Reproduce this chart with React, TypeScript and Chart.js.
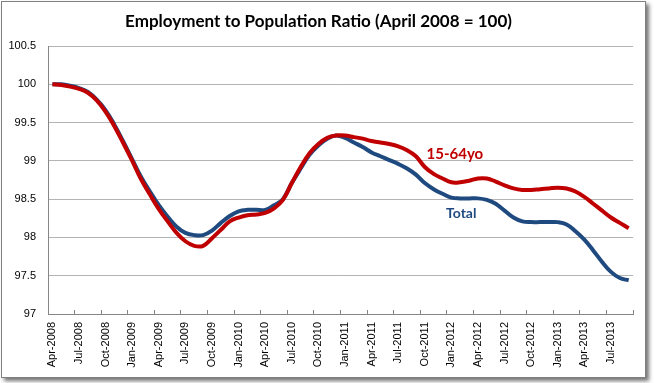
import { useEffect, useRef } from 'react';
import { Chart, registerables } from 'chart.js';

Chart.register(...registerables);

const chartTitle = 'Employment to Population Ratio (April 2008 = 100)';

const categories = [
  'Apr-2008', 'May-2008', 'Jun-2008', 'Jul-2008', 'Aug-2008', 'Sep-2008', 'Oct-2008', 'Nov-2008', 'Dec-2008',
  'Jan-2009', 'Feb-2009', 'Mar-2009', 'Apr-2009', 'May-2009', 'Jun-2009', 'Jul-2009', 'Aug-2009', 'Sep-2009',
  'Oct-2009', 'Nov-2009', 'Dec-2009', 'Jan-2010', 'Feb-2010', 'Mar-2010', 'Apr-2010', 'May-2010', 'Jun-2010',
  'Jul-2010', 'Aug-2010', 'Sep-2010', 'Oct-2010', 'Nov-2010', 'Dec-2010', 'Jan-2011', 'Feb-2011', 'Mar-2011',
  'Apr-2011', 'May-2011', 'Jun-2011', 'Jul-2011', 'Aug-2011', 'Sep-2011', 'Oct-2011', 'Nov-2011', 'Dec-2011',
  'Jan-2012', 'Feb-2012', 'Mar-2012', 'Apr-2012', 'May-2012', 'Jun-2012', 'Jul-2012', 'Aug-2012', 'Sep-2012',
  'Oct-2012', 'Nov-2012', 'Dec-2012', 'Jan-2013', 'Feb-2013', 'Mar-2013', 'Apr-2013', 'May-2013', 'Jun-2013',
  'Jul-2013', 'Aug-2013', 'Sep-2013',
];

const age1564 = [
  100.0, 99.99, 99.97, 99.94, 99.89, 99.79, 99.64, 99.45, 99.23,
  99.0, 98.76, 98.56, 98.37, 98.21, 98.06, 97.95, 97.89, 97.89,
  97.99, 98.1, 98.21, 98.26, 98.29, 98.3, 98.32, 98.38, 98.49,
  98.71, 98.92, 99.1, 99.22, 99.3, 99.33, 99.33, 99.31, 99.29,
  99.26, 99.24, 99.22, 99.19, 99.14, 99.06, 98.92, 98.83, 98.77,
  98.72, 98.72, 98.74, 98.77, 98.77, 98.73, 98.68, 98.64, 98.62,
  98.62, 98.63, 98.64, 98.65, 98.64, 98.6, 98.53, 98.44, 98.35,
  98.26, 98.19, 98.12,
];

const total = [
  100.0, 100.0, 99.98, 99.95, 99.9, 99.8, 99.66, 99.47, 99.25,
  99.02, 98.79, 98.6, 98.42, 98.27, 98.14, 98.06, 98.03, 98.03,
  98.09, 98.19, 98.28, 98.34, 98.36, 98.36, 98.36, 98.42, 98.5,
  98.71, 98.9, 99.08, 99.2, 99.29, 99.33, 99.3, 99.24, 99.18,
  99.11, 99.06, 99.01, 98.96, 98.9, 98.82, 98.71, 98.63, 98.57,
  98.52, 98.51, 98.51, 98.51, 98.49, 98.44, 98.35, 98.26, 98.21,
  98.2, 98.2, 98.2, 98.2, 98.17, 98.08, 97.97, 97.83, 97.68,
  97.55, 97.47, 97.44,
];

const seriesNames = ['15-64yo', 'Total'];
// label anchors: [category index, value] of the left/baseline of each in-chart series label
const labelAnchorIndex = [42.2, 44.4];
const labelAnchorValue = [99.02, 98.25];

const yMin = 97;
const yMax = 100.5;
const yStep = 0.5;

const RED = '#C00000';
const BLUE = '#1F4A80';
const GRID = '#B4B4B4';
const AXIS = '#868686';

const seriesLabelPlugin = {
  id: 'seriesLabels',
  afterDatasetsDraw(chart: any) {
    const { ctx } = chart;
    const xs = chart.scales.x;
    const ys = chart.scales.y;
    const colors = [RED, BLUE];
    const fonts = ['bold 15px Lato', 'bold 14px Lato'];
    ctx.save();
    ctx.textAlign = 'left';
    ctx.textBaseline = 'alphabetic';
    seriesNames.forEach((name, i) => {
      ctx.font = fonts[i];
      ctx.fillStyle = colors[i];
      ctx.fillText(name, xs.getPixelForValue(labelAnchorIndex[i]), ys.getPixelForValue(labelAnchorValue[i]));
    });
    ctx.restore();
  },
};

export default function App() {
  const ref = useRef<HTMLCanvasElement>(null);

  useEffect(() => {
    if (!ref.current) return;
    const chart = new Chart(ref.current, {
      type: 'line',
      data: {
        labels: categories,
        datasets: [
          {
            label: seriesNames[0],
            data: age1564,
            borderColor: RED,
            borderWidth: 4,
            pointRadius: 0,
            tension: 0.4,
            fill: false,
            order: 0,
          },
          {
            label: seriesNames[1],
            data: total,
            borderColor: BLUE,
            borderWidth: 4,
            pointRadius: 0,
            tension: 0.4,
            fill: false,
            order: 1,
          },
        ],
      },
      options: {
        responsive: false,
        animation: false,
        devicePixelRatio: 1,
        layout: { padding: { left: 0, right: 17, top: 0, bottom: 0 } },
        plugins: {
          legend: { display: false },
          tooltip: { enabled: false },
          title: {
            display: true,
            text: chartTitle,
            color: '#000',
            font: { family: 'Lato', size: 17, weight: 'bold', lineHeight: 1.2 },
            padding: { top: 11, bottom: 14.6 },
          },
        },
        scales: {
          x: {
            type: 'category',
            offset: true,
            afterFit: (s: any) => { s.height = 69; },
            grid: {
              offset: true,
              drawOnChartArea: false,
              drawTicks: true,
              tickLength: -4,
              color: (c: any) => (c.index === undefined || c.index % 3 === 0 ? AXIS : 'rgba(0,0,0,0)'),
              tickColor: (c: any) => (c.index === undefined || c.index % 3 === 0 ? AXIS : 'rgba(0,0,0,0)'),
            },
            border: { display: true, color: AXIS, width: 1 },
            ticks: {
              autoSkip: false,
              minRotation: 90,
              maxRotation: 90,
              padding: 12,
              color: '#000',
              font: { family: 'Liberation Sans', size: 11 },
              callback: (_v: any, i: number) => (i % 3 === 0 ? categories[i] : ''),
            },
          },
          y: {
            min: yMin,
            max: yMax,
            afterFit: (s: any) => { s.width = 48; },
            grid: { color: GRID, drawTicks: false, lineWidth: 1 },
            border: { display: true, color: AXIS, width: 1 },
            ticks: {
              stepSize: yStep,
              padding: 12,
              color: '#000',
              font: { family: 'Liberation Sans', size: 11 },
              callback: (v: any) => String(Math.round(Number(v) * 10) / 10),
            },
          },
        },
      },
      plugins: [seriesLabelPlugin],
    });
    return () => chart.destroy();
  }, []);

  return (
    <div style={{ position: 'absolute', left: 0, top: 0, width: 654, height: 383, background: '#fff' }}>
      <div
        style={{
          position: 'absolute',
          left: 1,
          top: 1,
          width: 643,
          height: 375,
          border: '1px solid #808080',
          background: '#fff',
          boxShadow: '3px 3px 4px rgba(0,0,0,0.55)',
        }}
      />
      <canvas ref={ref} width={654} height={383} style={{ position: 'absolute', left: 0, top: 0 }} />
    </div>
  );
}
